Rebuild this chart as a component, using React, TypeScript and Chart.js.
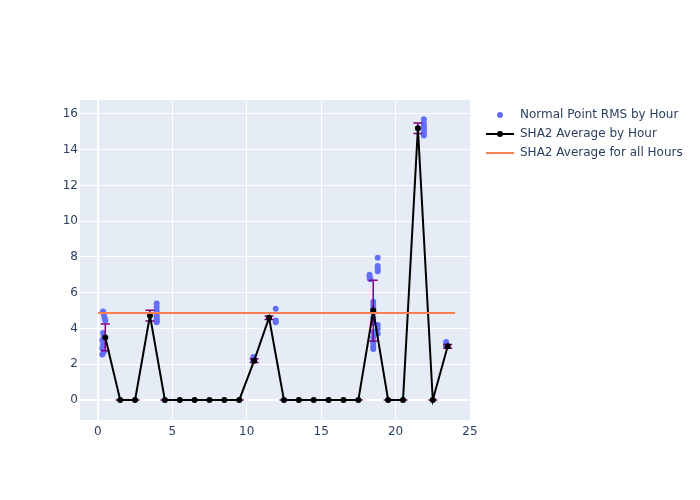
import React, { useEffect, useRef } from "react";
import { Chart, registerables } from "chart.js";

Chart.register(...registerables);

// Normal Point RMS by Hour (scatter)
const rmsX = [
  0.35, 0.4, 0.45, 0.5, 0.35, 0.4, 0.3, 0.35, 0.3, 0.4, 0.3,
  3.95, 3.95, 3.95, 3.95, 3.95, 3.95, 3.95, 3.95, 3.95,
  10.45, 10.45, 10.45,
  11.95, 11.95, 11.95,
  18.25, 18.25, 18.27, 18.3, 18.8, 18.8, 18.8, 18.8,
  18.5, 18.5, 18.5, 18.5, 18.5, 18.5, 18.5, 18.5, 18.5, 18.5, 18.5,
  18.8, 18.8, 18.8,
  21.9, 21.9, 21.9, 21.9, 21.9, 21.9, 21.9,
  23.4, 23.4, 23.4,
];
const rmsY = [
  4.95, 4.8, 4.6, 4.45, 3.75, 3.55, 3.35, 3.1, 2.9, 2.7, 2.55,
  5.4, 5.2, 5.0, 4.85, 4.7, 4.6, 4.5, 4.4, 4.35,
  2.4, 2.3, 2.2,
  5.1, 4.45, 4.35,
  7.0, 6.9, 6.8, 6.75, 7.95, 7.5, 7.35, 7.2,
  5.5, 5.3, 5.1, 4.9, 4.6, 4.3, 3.8, 3.5, 3.2, 3.0, 2.85,
  4.2, 4.0, 3.7,
  15.7, 15.5, 15.3, 15.2, 15.0, 14.9, 14.8,
  3.25, 3.15, 3.0,
];

// SHA2 Average by Hour
const hourX = [0.5, 1.5, 2.5, 3.5, 4.5, 5.5, 6.5, 7.5, 8.5, 9.5, 10.5, 11.5, 12.5, 13.5, 14.5, 15.5, 16.5, 17.5, 18.5, 19.5, 20.5, 21.5, 22.5, 23.5];
const hourAvg = [3.5, 0, 0, 4.72, 0, 0, 0, 0, 0, 0, 2.2, 4.6, 0, 0, 0, 0, 0, 0, 5.0, 0, 0, 15.2, 0, 3.0];
const hourErr = [0.75, 0, 0, 0.3, 0, 0, 0, 0, 0, 0, 0.1, 0.1, 0, 0, 0, 0, 0, 0, 1.7, 0, 0, 0.3, 0, 0.1];

// SHA2 Average for all Hours
const allX = [0, 24];
const allAvg = 4.87;

const xTicks = [0, 5, 10, 15, 20, 25];
const yTicks = [0, 2, 4, 6, 8, 10, 12, 14, 16];

const FONT = "'DejaVu Sans', Verdana, sans-serif";
const TXT = "#2a3f5f";

const legendItems = [
  { label: "Normal Point RMS by Hour", kind: "dot" },
  { label: "SHA2 Average by Hour", kind: "line" },
  { label: "SHA2 Average for all Hours", kind: "avg" },
];

export default function App() {
  const ref = useRef<HTMLCanvasElement | null>(null);
  useEffect(() => {
    const canvas = ref.current;
    if (!canvas) return;
    const bgPlugin = {
      id: "bg",
      beforeDraw(chart: any) {
        const { ctx, chartArea: a } = chart;
        ctx.save();
        ctx.fillStyle = "#ffffff";
        ctx.fillRect(0, 0, chart.width, chart.height);
        ctx.fillStyle = "#e5ecf6";
        ctx.fillRect(a.left, a.top, a.right - a.left, a.bottom - a.top);
        ctx.restore();
      },
      beforeDatasetsDraw(chart: any) {
        const { ctx, chartArea: a } = chart;
        const xs = chart.scales.x;
        const ys = chart.scales.y;
        ctx.save();
        ctx.strokeStyle = "#ffffff";
        ctx.lineWidth = 2;
        ctx.beginPath();
        const x0 = Math.round(xs.getPixelForValue(0));
        ctx.moveTo(x0, a.top);
        ctx.lineTo(x0, a.bottom);
        const y0 = Math.round(ys.getPixelForValue(0));
        ctx.moveTo(a.left, y0);
        ctx.lineTo(a.right, y0);
        ctx.stroke();
        ctx.restore();
      },
      beforeDatasetDraw(chart: any, args: any) {
        if (args.index !== 1) return;
        const { ctx } = chart;
        const xs = chart.scales.x;
        const ys = chart.scales.y;
        ctx.save();
        ctx.strokeStyle = "#800080";
        ctx.lineWidth = 1.5;
        ctx.beginPath();
        hourX.forEach((hx, i) => {
          const px = xs.getPixelForValue(hx);
          const pt = ys.getPixelForValue(hourAvg[i] + hourErr[i]);
          const pb = ys.getPixelForValue(hourAvg[i] - hourErr[i]);
          ctx.moveTo(px, pt);
          ctx.lineTo(px, pb);
          ctx.moveTo(px - 4.5, pt);
          ctx.lineTo(px + 4.5, pt);
          ctx.moveTo(px - 4.5, pb);
          ctx.lineTo(px + 4.5, pb);
        });
        ctx.stroke();
        ctx.restore();
      },
      afterDraw(chart: any) {
        const { ctx } = chart;
        ctx.save();
        ctx.font = `12px ${FONT}`;
        ctx.fillStyle = TXT;
        ctx.textBaseline = "middle";
        legendItems.forEach((it, i) => {
          const y = 115 + i * 19;
          if (it.kind === "dot") {
            ctx.fillStyle = "#636efa";
            ctx.beginPath();
            ctx.arc(500, y, 3, 0, Math.PI * 2);
            ctx.fill();
          } else if (it.kind === "line") {
            ctx.strokeStyle = "#000000";
            ctx.lineWidth = 2;
            ctx.beginPath();
            ctx.moveTo(486, y);
            ctx.lineTo(514, y);
            ctx.stroke();
            ctx.fillStyle = "#000000";
            ctx.beginPath();
            ctx.arc(500, y, 3, 0, Math.PI * 2);
            ctx.fill();
          } else {
            ctx.strokeStyle = "#ff7f50";
            ctx.lineWidth = 2;
            ctx.beginPath();
            ctx.moveTo(486, y);
            ctx.lineTo(514, y);
            ctx.stroke();
          }
          ctx.fillStyle = TXT;
          ctx.fillText(it.label, 520, y);
        });
        ctx.restore();
      },
    };

    const chart = new Chart(canvas, {
      type: "scatter",
      data: {
        datasets: [
          {
            label: "Normal Point RMS by Hour",
            data: rmsX.map((x, i) => ({ x, y: rmsY[i] })),
            backgroundColor: "#636efa",
            borderColor: "#636efa",
            pointRadius: 3,
            borderWidth: 0,
            order: 3,
          },
          {
            label: "SHA2 Average by Hour",
            type: "line",
            data: hourX.map((x, i) => ({ x, y: hourAvg[i] })),
            borderColor: "#000000",
            backgroundColor: "#000000",
            borderWidth: 2,
            pointRadius: 3,
            pointBorderWidth: 0,
            showLine: true,
            tension: 0,
            order: 2,
          },
          {
            label: "SHA2 Average for all Hours",
            type: "line",
            data: allX.map((x) => ({ x, y: allAvg })),
            borderColor: "#ff7f50",
            backgroundColor: "#ff7f50",
            borderWidth: 2,
            pointRadius: 0,
            showLine: true,
            order: 1,
          },
        ],
      } as any,
      options: {
        animation: false,
        responsive: false,
        maintainAspectRatio: false,
        layout: { padding: { left: 0, top: 100, right: 230, bottom: 0 } },
        plugins: { legend: { display: false }, tooltip: { enabled: false } },
        scales: {
          x: {
            type: "linear",
            min: -1.2,
            max: 25,
            afterFit(s: any) {
              s.height = 80;
            },
            afterBuildTicks(s: any) {
              s.ticks = xTicks.map((v) => ({ value: v }));
            },
            grid: { color: "#ffffff", lineWidth: 1, drawTicks: false },
            border: { display: false },
            ticks: { color: TXT, font: { family: FONT, size: 12 }, padding: 5, maxRotation: 0 },
          },
          y: {
            type: "linear",
            min: -1.12,
            max: 16.78,
            afterFit(s: any) {
              s.width = 80;
            },
            afterBuildTicks(s: any) {
              s.ticks = yTicks.map((v) => ({ value: v }));
            },
            grid: { color: "#ffffff", lineWidth: 1, drawTicks: false },
            border: { display: false },
            ticks: { color: TXT, font: { family: FONT, size: 12 }, padding: 2 },
          },
        },
      } as any,
      plugins: [bgPlugin],
    });
    return () => chart.destroy();
  }, []);
  return (
    <div style={{ position: "fixed", left: 0, top: 0, width: 700, height: 500, background: "#fff" }}>
      <canvas ref={ref} width={700} height={500} style={{ width: 700, height: 500 }} />
    </div>
  );
}
